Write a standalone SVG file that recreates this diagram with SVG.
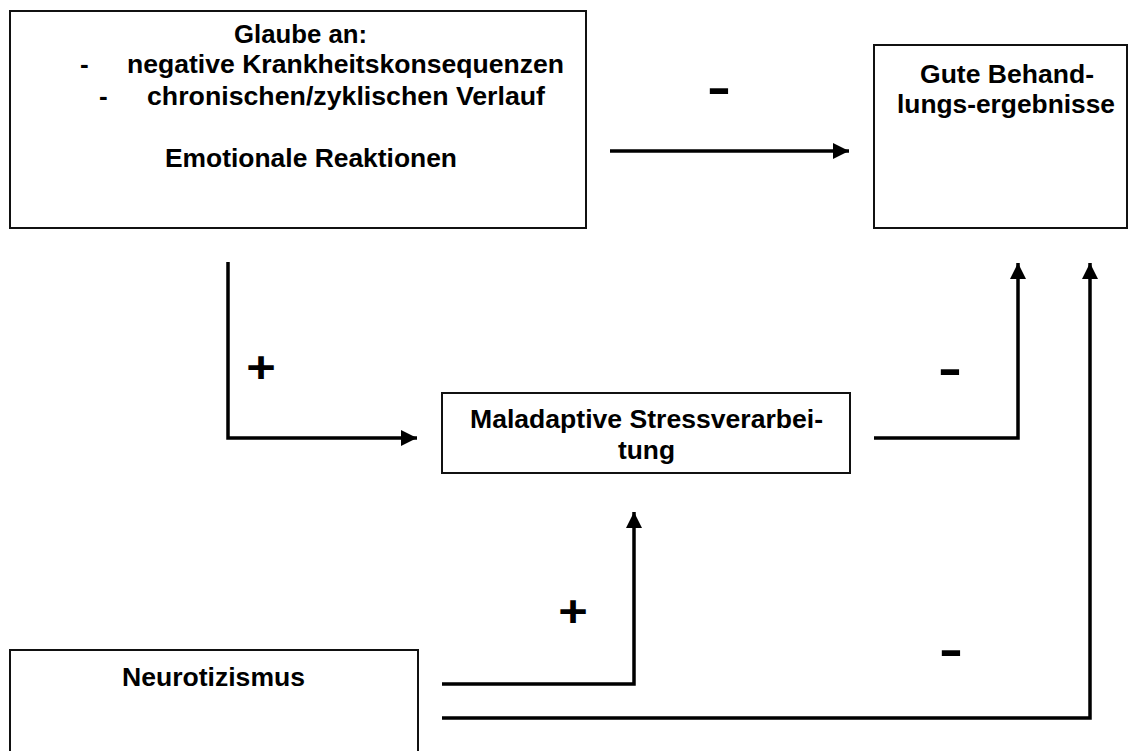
<svg xmlns="http://www.w3.org/2000/svg" width="1130" height="751" viewBox="0 0 1130 751">
  <defs>
    <marker id="arrow" viewBox="0 0 16 16" refX="16" refY="8" markerWidth="16" markerHeight="16" markerUnits="userSpaceOnUse" orient="auto">
      <path d="M0,0 L16,8 L0,16 Z" fill="#000"/>
    </marker>
    <style>
      .box { fill: #fff; stroke: #111; stroke-width: 2; }
      .lbl { font-family: "Liberation Sans", Arial, sans-serif; font-weight: bold; font-size: 26px; fill: #000; }
      .sign { font-family: "Liberation Sans", Arial, sans-serif; font-weight: bold; fill: #000; }
      .conn { fill: none; stroke: #000; stroke-width: 3.5; stroke-linejoin: miter; }
    </style>
  </defs>
  <rect width="1130" height="751" fill="#fff"/>

  <!-- Beliefs box -->
  <g id="node-glaube">
    <rect class="box" x="10" y="11" width="576" height="217"/>
    <text class="lbl" x="234" y="43" textLength="133" lengthAdjust="spacingAndGlyphs">Glaube an:</text>
    <text class="lbl" x="80" y="73">-</text>
    <text class="lbl" x="127" y="73" textLength="437" lengthAdjust="spacingAndGlyphs">negative Krankheitskonsequenzen</text>
    <text class="lbl" x="99" y="105">-</text>
    <text class="lbl" x="147" y="105" textLength="398" lengthAdjust="spacingAndGlyphs">chronischen/zyklischen Verlauf</text>
    <text class="lbl" x="165" y="167" textLength="292" lengthAdjust="spacingAndGlyphs">Emotionale Reaktionen</text>
  </g>

  <!-- Treatment outcome box -->
  <g id="node-behandlung">
    <rect class="box" x="874" y="45" width="253" height="183"/>
    <text class="lbl" x="920" y="83" textLength="174" lengthAdjust="spacingAndGlyphs">Gute Behand-</text>
    <text class="lbl" x="897" y="113" textLength="218" lengthAdjust="spacingAndGlyphs">lungs-ergebnisse</text>
  </g>

  <!-- Coping box -->
  <g id="node-stress">
    <rect class="box" x="442" y="393" width="408" height="80"/>
    <text class="lbl" x="470" y="428" textLength="353" lengthAdjust="spacingAndGlyphs">Maladaptive Stressverarbei-</text>
    <text class="lbl" x="618" y="459" textLength="57" lengthAdjust="spacingAndGlyphs">tung</text>
  </g>

  <!-- Neuroticism box -->
  <g id="node-neurotizismus">
    <rect class="box" x="10" y="650" width="408" height="110"/>
    <text class="lbl" x="122" y="686" textLength="183" lengthAdjust="spacingAndGlyphs">Neurotizismus</text>
  </g>

  <!-- Connectors -->
  <g id="connectors">
    <path class="conn" d="M610,151 H849" marker-end="url(#arrow)"/>
    <path class="conn" d="M228,262 V438 H417" marker-end="url(#arrow)"/>
    <path class="conn" d="M874,438 H1018 V263" marker-end="url(#arrow)"/>
    <path class="conn" d="M442,684 H634 V512" marker-end="url(#arrow)"/>
    <path class="conn" d="M442,718 H1090 V263" marker-end="url(#arrow)"/>
  </g>

  <!-- Effect signs -->
  <g id="signs">
    <text class="sign" x="719" y="104" font-size="48" text-anchor="middle" transform="translate(719 0) scale(1.5 1) translate(-719 0)">-</text>
    <text class="sign" x="261" y="383" font-size="44" text-anchor="middle" transform="translate(261 0) scale(1.15 1) translate(-261 0)">+</text>
    <text class="sign" x="950" y="385" font-size="48" text-anchor="middle" transform="translate(950 0) scale(1.5 1) translate(-950 0)">-</text>
    <text class="sign" x="573" y="627" font-size="44" text-anchor="middle" transform="translate(573 0) scale(1.15 1) translate(-573 0)">+</text>
    <text class="sign" x="951" y="666" font-size="48" text-anchor="middle" transform="translate(951 0) scale(1.5 1) translate(-951 0)">-</text>
  </g>
</svg>
